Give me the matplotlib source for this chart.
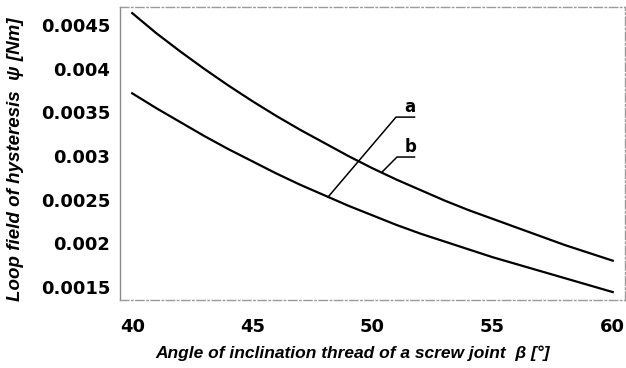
import matplotlib
matplotlib.use('Agg')
import matplotlib.pyplot as plt

# angle of thread inclination (deg)
beta = [40, 41, 42, 43, 44, 45, 46, 47, 48, 49, 50,
        51, 52, 53, 54, 55, 56, 57, 58, 59, 60]
# curve b (upper)
psi_b = [0.00464, 0.00441, 0.00420, 0.00400, 0.00381, 0.00363, 0.00346,
         0.00330, 0.00315, 0.00300, 0.00286, 0.00273, 0.00261, 0.00249,
         0.00238, 0.00228, 0.00218, 0.00208, 0.00198, 0.00189, 0.00180]
# curve a (lower)
psi_a = [0.00372, 0.00355, 0.00339, 0.00323, 0.00308, 0.00294, 0.00280,
         0.00267, 0.00255, 0.00243, 0.00232, 0.00221, 0.00211, 0.00202,
         0.00193, 0.00184, 0.00176, 0.00168, 0.00160, 0.00152, 0.00144]

xticks = [40, 45, 50, 55, 60]
yticks = [0.0015, 0.002, 0.0025, 0.003, 0.0035, 0.004, 0.0045]
ytick_labels = ['0.0015', '0.002', '0.0025', '0.003', '0.0035', '0.004', '0.0045']

fig = plt.figure(figsize=(6.26, 3.68), dpi=100)
ax = fig.add_axes([0.192, 0.185, 0.806, 0.796])

ax.plot(beta, psi_b, color='black', lw=1.6)
ax.plot(beta, psi_a, color='black', lw=1.6)

# leader lines for curve labels
ax.plot([48.15, 50.98, 51.75], [0.00253, 0.003447, 0.003447], color='black', lw=1.1)
ax.text(51.55, 0.00346, 'a', fontsize=12, fontweight='bold', ha='center', va='bottom')
ax.plot([50.4, 51.02, 51.75], [0.002817, 0.002989, 0.002989], color='black', lw=1.1)
ax.text(51.6, 0.003005, 'b', fontsize=12, fontweight='bold', ha='center', va='bottom')

ax.set_xlim(39.5, 60.5)
ax.set_ylim(0.00135, 0.00471)
ax.set_xticks(xticks)
ax.set_yticks(yticks)
ax.set_yticklabels(ytick_labels)
ax.tick_params(length=0, labelsize=13)
ax.tick_params(axis='x', pad=13)
ax.tick_params(axis='y', pad=7)
for lab in ax.get_xticklabels() + ax.get_yticklabels():
    lab.set_fontweight('bold')

for side in ['top', 'right', 'bottom']:
    ax.spines[side].set_color('#9a9a9a')
    ax.spines[side].set_linestyle((0, (6, 2, 1, 2)))
    ax.spines[side].set_linewidth(1.0)
ax.spines['left'].set_color('#8a8a8a')
ax.spines['left'].set_linewidth(1.0)

ax.set_xlabel('Angle of inclination thread of a screw joint  β [°]',
              fontsize=12.5, fontweight='bold', fontstyle='italic',
              family='Liberation Sans')
ax.set_ylabel('Loop field of hysteresis  ψ [Nm]',
              fontsize=13.5, fontweight='bold', fontstyle='italic',
              family='Liberation Sans')
ax.xaxis.set_label_coords(0.461, -0.154)
ax.yaxis.set_label_coords(-0.19, 0.481)

fig.savefig('out.png', dpi=100)
